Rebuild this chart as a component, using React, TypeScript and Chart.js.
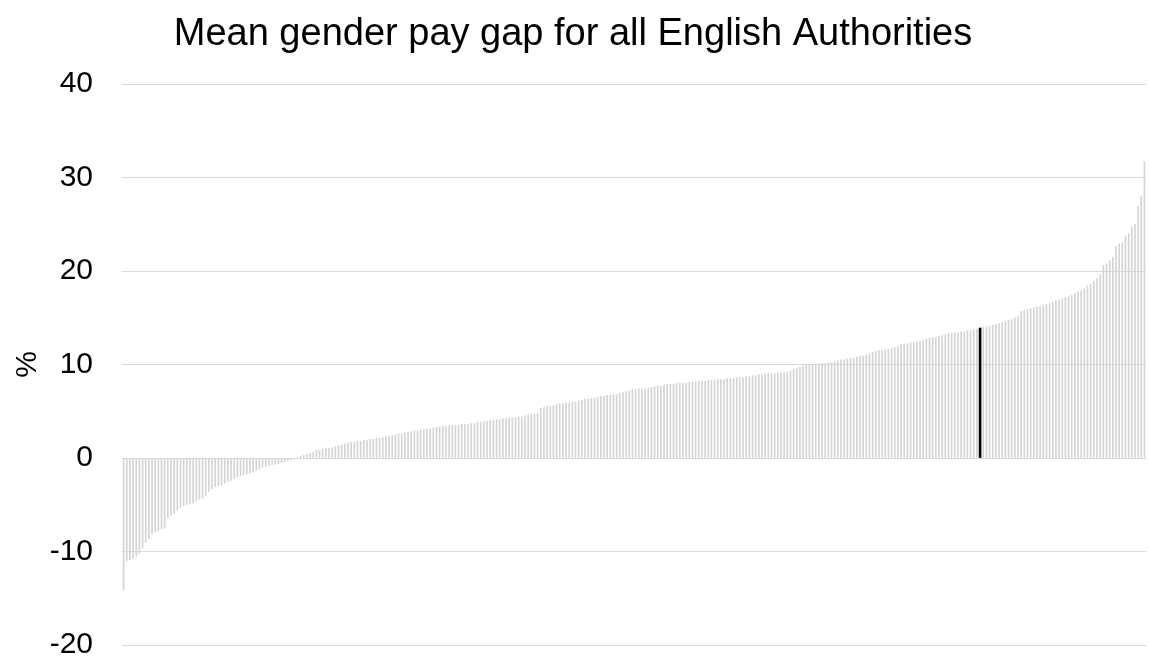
import React, { useEffect, useRef } from "react";
import { Chart, registerables } from "chart.js";

Chart.register(...registerables);

const chartTitle = "Mean gender pay gap for all English Authorities";
const yAxisTitle = "%";
const yTicks = [-20, -10, 0, 10, 20, 30, 40];

// Mean gender pay gap (%) for each authority, sorted ascending
const gapValues: number[] = [
  -14.1, -11.0, -10.9, -10.7, -10.5, -10.2, -9.6, -9.0, -8.6, -8.1,
  -7.9, -7.8, -7.6, -7.5, -6.4, -6.1, -5.9, -5.6, -5.3, -5.1,
  -5.0, -4.9, -4.8, -4.6, -4.4, -4.3, -4.0, -3.6, -3.3, -3.1,
  -3.0, -2.9, -2.7, -2.5, -2.4, -2.2, -2.0, -1.9, -1.8, -1.7,
  -1.6, -1.5, -1.3, -1.2, -1.0, -0.9, -0.8, -0.7, -0.7, -0.6,
  -0.5, -0.4, -0.3, -0.2, -0.1, 0.1, 0.2, 0.3, 0.4, 0.5,
  0.6, 0.8, 0.8, 0.9, 1.0, 1.0, 1.1, 1.2, 1.3, 1.4,
  1.5, 1.6, 1.7, 1.7, 1.8, 1.8, 1.9, 1.9, 2.0, 2.0,
  2.1, 2.1, 2.2, 2.3, 2.3, 2.4, 2.5, 2.6, 2.6, 2.7,
  2.8, 2.8, 2.9, 2.9, 3.0, 3.0, 3.1, 3.1, 3.2, 3.3,
  3.3, 3.4, 3.4, 3.5, 3.5, 3.5, 3.5, 3.6, 3.6, 3.6,
  3.7, 3.7, 3.8, 3.8, 3.9, 3.9, 4.0, 4.0, 4.1, 4.1,
  4.2, 4.2, 4.3, 4.3, 4.3, 4.4, 4.4, 4.5, 4.6, 4.7,
  4.7, 4.8, 5.3, 5.4, 5.5, 5.5, 5.6, 5.7, 5.8, 5.8,
  5.9, 5.9, 6.0, 6.0, 6.1, 6.2, 6.3, 6.3, 6.4, 6.4,
  6.5, 6.6, 6.6, 6.7, 6.7, 6.8, 6.8, 6.9, 7.0, 7.1,
  7.2, 7.3, 7.3, 7.4, 7.4, 7.4, 7.5, 7.5, 7.6, 7.7,
  7.7, 7.8, 7.9, 7.9, 7.9, 8.0, 8.0, 8.0, 8.0, 8.1,
  8.1, 8.1, 8.2, 8.2, 8.2, 8.3, 8.3, 8.3, 8.4, 8.4,
  8.4, 8.5, 8.5, 8.5, 8.6, 8.6, 8.6, 8.7, 8.7, 8.8,
  8.8, 8.9, 8.9, 9.0, 9.0, 9.0, 9.0, 9.1, 9.1, 9.2,
  9.2, 9.3, 9.5, 9.6, 9.7, 9.8, 9.9, 9.9, 10.0, 10.0,
  10.0, 10.1, 10.1, 10.2, 10.2, 10.3, 10.4, 10.5, 10.5, 10.6,
  10.7, 10.7, 10.8, 10.9, 10.9, 11.0, 11.1, 11.3, 11.4, 11.5,
  11.5, 11.6, 11.6, 11.7, 11.8, 11.9, 12.1, 12.2, 12.2, 12.3,
  12.4, 12.4, 12.5, 12.6, 12.7, 12.8, 12.9, 12.9, 13.0, 13.1,
  13.2, 13.3, 13.3, 13.4, 13.4, 13.5, 13.5, 13.6, 13.6, 13.7,
  13.8, 13.9, 14.0, 14.0, 14.1, 14.2, 14.3, 14.4, 14.5, 14.6,
  14.7, 14.8, 15.0, 15.1, 15.7, 15.8, 15.9, 16.0, 16.1, 16.2,
  16.2, 16.3, 16.4, 16.5, 16.6, 16.8, 16.9, 17.0, 17.2, 17.3,
  17.4, 17.6, 17.8, 17.9, 18.1, 18.4, 18.6, 18.9, 19.2, 19.6,
  20.6, 20.8, 21.1, 21.5, 22.6, 22.9, 23.0, 23.7, 24.0, 24.7,
  25.0, 26.9, 28.0, 31.7,
];

// Position (0-based) of the highlighted authority in the sorted list
const highlightIndex = 271;

const authorityLabels: string[] = gapValues.map((_, i) => `Authority ${i + 1}`);

const FONT = "'Liberation Sans', Arial, Helvetica, sans-serif";

export default function App() {
  const canvasRef = useRef<HTMLCanvasElement | null>(null);

  useEffect(() => {
    if (!canvasRef.current) return;
    const greyData = gapValues.map((v, i) => (i === highlightIndex ? null : v));
    const highlightData = gapValues.map((v, i) => (i === highlightIndex ? v : null));

    const chart = new Chart(canvasRef.current, {
      type: "bar",
      data: {
        labels: authorityLabels,
        datasets: [
          {
            label: "Authorities",
            data: greyData,
            backgroundColor: "#d4d4d4",
            barThickness: 1,
            grouped: false,
            borderWidth: 0,
          },
          {
            label: "Highlighted",
            data: highlightData,
            backgroundColor: "#000000",
            barThickness: 2,
            grouped: false,
            borderWidth: 0,
          },
        ],
      },
      options: {
        responsive: false,
        animation: false,
        layout: { padding: { left: 0, right: 3, top: 0, bottom: 14 } },
        plugins: {
          legend: { display: false },
          tooltip: { enabled: false },
          title: {
            display: true,
            text: chartTitle,
            color: "#000",
            font: { family: FONT, size: 38, weight: "normal" },
            padding: { top: 12, bottom: 26.4 },
          },
        },
        scales: {
          x: {
            display: false,
            grid: { display: false },
          },
          y: {
            min: -20,
            max: 40,
            afterBuildTicks: (scale: any) => {
              scale.ticks = yTicks.map((v) => ({ value: v }));
            },
            afterFit: (scale: any) => {
              scale.width = 122;
              scale.paddingTop = 0;
              scale.paddingBottom = 0;
            },
            border: { display: false },
            grid: {
              color: "#d9d9d9",
              lineWidth: 1,
              drawTicks: false,
            },
            ticks: {
              color: "#000",
              padding: 29,
              font: { family: FONT, size: 30 },
            },
            title: {
              display: true,
              text: yAxisTitle,
              color: "#000",
              font: { family: FONT, size: 30 },
              padding: { top: 10, bottom: 0 },
            },
          },
        },
      },
    });
    return () => chart.destroy();
  }, []);

  return (
    <div style={{ position: "absolute", left: 0, top: 0, width: 1149, height: 659, background: "#fff" }}>
      <canvas ref={canvasRef} width={1149} height={659} style={{ display: "block" }} />
    </div>
  );
}
